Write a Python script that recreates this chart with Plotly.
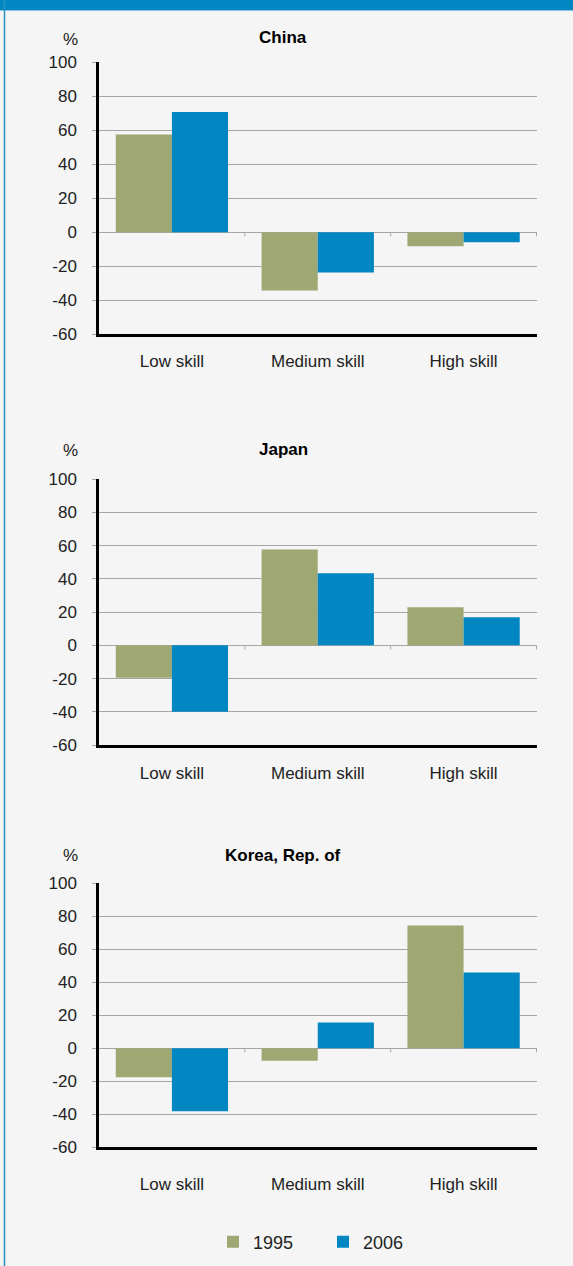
import plotly.graph_objects as go

# Skill categories and survey years
categories = ["Low skill", "Medium skill", "High skill"]
years = ["1995", "2006"]

# Percentage values per country (1995, 2006)
china_1995 = [57.6, -34.2, -8.2]
china_2006 = [70.7, -23.6, -5.9]
japan_1995 = [-19.5, 57.8, 22.9]
japan_2006 = [-40.0, 43.4, 16.9]
korea_1995 = [-17.6, -7.5, 74.5]
korea_2006 = [-38.1, 15.6, 46.0]

countries = ["China", "Japan", "Korea, Rep. of"]
series = [(china_1995, china_2006), (japan_1995, japan_2006), (korea_1995, korea_2006)]

y_ticks = [100, 80, 60, 40, 20, 0, -20, -40, -60]
y_ticktext = [str(v) for v in y_ticks]

W, H = 573, 1266
COL_1995 = "#9fa773"
COL_2006 = "#0087c1"
BG = "#f5f5f5"
GRID = "#a6a6a6"
TXT = "#222222"
FONT = "Liberation Sans, Arial, sans-serif"

# panel placement in pixels (top, bottom) and shared horizontal extent
panels_px = [(62.3, 334.3), (479.3, 745.0), (883.3, 1147.3)]
x_px = (99.0, 537.0)
# per-panel offsets: category label standoff, title shift, unit label shift
label_standoff = [10, 11, 20]
title_shift = [24.5, 30.3, 28.3]
unit_shift = [22.8, 28.5, 27.5]

fig = go.Figure()

for i, (name, (v95, v06)) in enumerate(zip(countries, series)):
    n = "" if i == 0 else str(i + 1)
    xa, ya = "x" + n, "y" + n
    fig.add_trace(go.Bar(x=categories, y=v95, name=years[0], marker_color=COL_1995,
                         marker_line_width=0, xaxis=xa, yaxis=ya,
                         showlegend=(i == 0), legendgroup=years[0]))
    fig.add_trace(go.Bar(x=categories, y=v06, name=years[1], marker_color=COL_2006,
                         marker_line_width=0, xaxis=xa, yaxis=ya,
                         showlegend=(i == 0), legendgroup=years[1]))

    top, bot = panels_px[i]
    ydom = [1 - bot / H, 1 - top / H]
    xdom = [x_px[0] / W, x_px[1] / W]

    fig.layout["xaxis" + n] = dict(
        domain=xdom, anchor=ya, type="category", categoryorder="array",
        categoryarray=categories, showline=True, linecolor="#000000", linewidth=2.5,
        showgrid=False, ticks="", ticklabelstandoff=label_standoff[i], automargin=False,
        tickfont=dict(family=FONT, size=17, color=TXT), fixedrange=True,
    )
    fig.layout["yaxis" + n] = dict(
        domain=ydom, anchor=xa, range=[-60, 100],
        tickvals=y_ticks, ticktext=y_ticktext, automargin=False,
        showline=True, linecolor="#000000", linewidth=2.5,
        showgrid=True, gridcolor=GRID, gridwidth=1,
        zeroline=True, zerolinecolor=GRID, zerolinewidth=1,
        ticks="outside", ticklen=4, tickcolor=GRID, ticklabelstandoff=12,
        tickfont=dict(family=FONT, size=17, color=TXT), fixedrange=True,
    )

    # small tick marks on the zero line at the category boundaries
    for b in [0.5, 1.5, 2.5]:
        fig.add_shape(type="line", xref=xa, yref=ya, x0=b, x1=b,
                      ysizemode="pixel", yanchor=0, y0=0, y1=-4,
                      line=dict(color=GRID, width=1))

    # panel title and unit label
    fig.add_annotation(text="<b>" + name + "</b>", xref="paper", yref=ya + " domain",
                       x=283 / W, y=1, yshift=title_shift[i], showarrow=False,
                       xanchor="center", yanchor="middle",
                       font=dict(family=FONT, size=17, color="#000000"))
    fig.add_annotation(text="%", xref="paper", yref=ya + " domain",
                       x=70 / W, y=1, yshift=unit_shift[i], showarrow=False,
                       xanchor="center", yanchor="middle",
                       font=dict(family=FONT, size=17, color=TXT))

# frame: blue band on top and thin border on the left
fig.add_shape(type="rect", xref="paper", yref="paper", x0=0, x1=1,
              y0=1 - 10 / H, y1=1, fillcolor="#0087c1", line_width=0, layer="above")
fig.add_shape(type="line", xref="paper", yref="paper", x0=0, x1=1,
              y0=1 - 10.5 / H, y1=1 - 10.5 / H, line=dict(color="#8cc4e2", width=1),
              layer="above")
fig.add_shape(type="line", xref="paper", yref="paper", x0=4.5 / W, x1=4.5 / W,
              y0=0, y1=1, line=dict(color="#2b8fc7", width=1.5), layer="above")

fig.update_layout(
    width=W, height=H, margin=dict(l=0, r=0, t=0, b=0, pad=0, autoexpand=False),
    paper_bgcolor=BG, plot_bgcolor=BG,
    barmode="group", bargap=0.23, bargroupgap=0,
    font=dict(family=FONT, size=17, color=TXT),
    showlegend=True,
    legend=dict(orientation="h", x=323 / W, xanchor="center", y=1 - 1242 / H,
                yanchor="middle", bgcolor="rgba(0,0,0,0)",
                font=dict(family=FONT, size=18, color=TXT),
                entrywidth=65, entrywidthmode="pixels", itemsizing="constant"),
)

fig.write_html("out.html")
